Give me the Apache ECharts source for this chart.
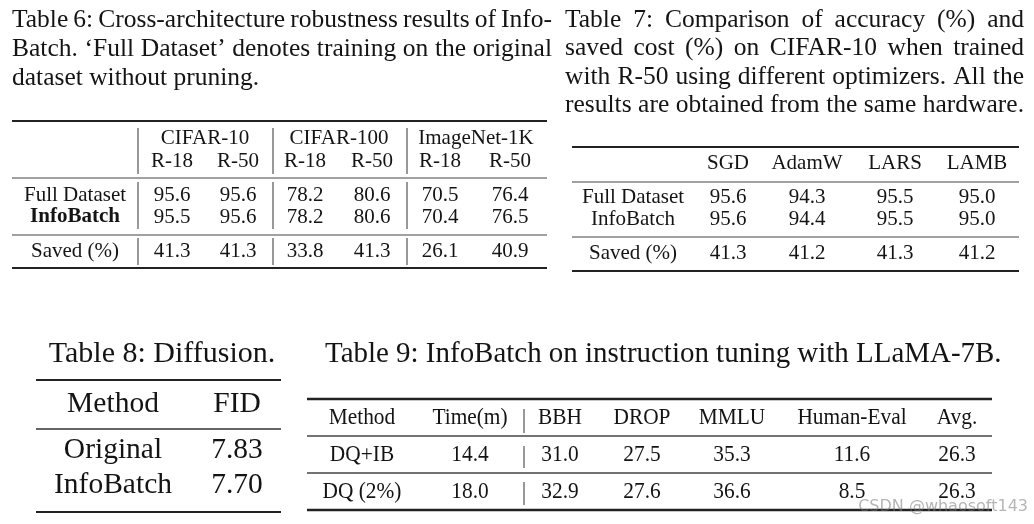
<!DOCTYPE html>
<html><head><meta charset="utf-8">
<script src="https://cdn.jsdelivr.net/npm/echarts@6/dist/echarts.min.js"></script>
<style>html,body{margin:0;padding:0;background:#fff}#c{width:1034px;height:524px}</style>
</head><body><div id="c"></div>
<script>
// ---------- DATA ----------
const t6Caption = ["Table 6: Cross-architecture robustness results of Info-", "Batch. \u2018Full Dataset\u2019 denotes training on the original", "dataset without pruning."];
const t6Groups = ["CIFAR-10", "CIFAR-100", "ImageNet-1K"];
const t6Models = ["R-18", "R-50", "R-18", "R-50", "R-18", "R-50"];
const t6RowLabels = ["Full Dataset", "InfoBatch", "Saved (%)"];
const t6FullDataset = [95.6, 95.6, 78.2, 80.6, 70.5, 76.4];
const t6InfoBatch = [95.5, 95.6, 78.2, 80.6, 70.4, 76.5];
const t6Saved = [41.3, 41.3, 33.8, 41.3, 26.1, 40.9];

const t7Caption = ["Table 7: Comparison of accuracy (%) and", "saved cost (%) on CIFAR-10 when trained", "with R-50 using different optimizers. All the", "results are obtained from the same hardware."];
const t7Optimizers = ["SGD", "AdamW", "LARS", "LAMB"];
const t7RowLabels = ["Full Dataset", "InfoBatch", "Saved (%)"];
const t7FullDataset = [95.6, 94.3, 95.5, 95.0];
const t7InfoBatch = [95.6, 94.4, 95.5, 95.0];
const t7Saved = [41.3, 41.2, 41.3, 41.2];

const t8Caption = "Table 8: Diffusion.";
const t8Header = ["Method", "FID"];
const t8Methods = ["Original", "InfoBatch"];
const t8FID = [7.83, 7.70];

const t9Caption = "Table 9: InfoBatch on instruction tuning with LLaMA-7B.";
const t9Header = ["Method", "Time(m)", "BBH", "DROP", "MMLU", "Human-Eval", "Avg."];
const t9Methods = ["DQ+IB", "DQ (2%)"];
const t9Time = [14.4, 18.0];
const t9BBH = [31.0, 32.9];
const t9DROP = [27.5, 27.6];
const t9MMLU = [35.3, 36.6];
const t9HumanEval = [11.6, 8.5];
const t9Avg = [26.3, 26.3];

const watermark = "CSDN @whaosoft143";

// ---------- LAYOUT ----------
const SERIF = '"Liberation Serif", "Times New Roman", serif';
const INK = '#141414';
const els = [];
const cv = document.createElement('canvas').getContext('2d');
function textW(s, font) { cv.font = font; return cv.measureText(s).width; }
function txt(s, x, y, size, opts) {
  opts = opts || {};
  const font = (opts.bold ? 'bold ' : '') + size + 'px ' + SERIF;
  els.push({
    type: 'text', x: x, y: y, silent: true,
    scaleX: opts.sx || 1, originX: 0, originY: 0,
    style: {
      text: s, font: font, fill: opts.fill || INK,
      align: opts.align || 'center', verticalAlign: 'middle',
      textAlign: opts.align || 'center', textVerticalAlign: 'middle'
    }
  });
}
function justified(s, x0, x1, y, size) {
  const font = size + 'px ' + SERIF;
  const words = s.split(' ');
  const total = words.reduce((a, w) => a + textW(w, font), 0);
  const gap = words.length > 1 ? (x1 - x0 - total) / (words.length - 1) : 0;
  let x = x0;
  words.forEach(w => { txt(w, x, y, size, { align: 'left' }); x += textW(w, font) + gap; });
}
function hline(x0, x1, y, w, c) {
  els.push({ type: 'line', silent: true, shape: { x1: x0, y1: y, x2: x1, y2: y }, style: { stroke: c || '#222', lineWidth: w } });
}
function vline(x, y0, y1) {
  els.push({ type: 'line', silent: true, shape: { x1: x, y1: y0, x2: x, y2: y1 }, style: { stroke: '#333', lineWidth: 1 } });
}
const f1 = v => v.toFixed(1), f2 = v => v.toFixed(2);

// Table 6
(function () {
  const cap = 25.5, fs = 21;
  const capY = [20, 49, 78];
  t6Caption.forEach((l, i) => {
    if (i < t6Caption.length - 1) justified(l, 12, 552, capY[i], cap); else txt(l, 12, capY[i], cap, { align: 'left' });
  });
  const L = 12, R = 547, labX = 75;
  const colX = [172, 238, 305, 372, 440, 510];
  const grpX = [205, 339, 476];
  const bars = [138, 273, 407];
  hline(L, R, 121, 2); hline(L, R, 178, 1.2, '#444'); hline(L, R, 235, 1.2, '#444'); hline(L, R, 268, 2);
  bars.forEach(b => { vline(b, 128, 174); vline(b, 182, 229); vline(b, 238, 265); });
  t6Groups.forEach((g, i) => txt(g, grpX[i], 138, fs));
  t6Models.forEach((m, i) => txt(m, colX[i], 161, fs));
  const rows = [t6FullDataset, t6InfoBatch, t6Saved], rowY = [195, 217, 251];
  t6RowLabels.forEach((l, r) => txt(l, labX, rowY[r], fs, { bold: r === 1 }));
  rows.forEach((vals, r) => vals.forEach((v, i) => txt(f1(v), colX[i], rowY[r], fs)));
})();

// Table 7
(function () {
  const cap = 25.5, fs = 21;
  const capY = [20, 48, 77, 105];
  t7Caption.forEach((l, i) => justified(l, 565, 1024, capY[i], cap));
  const L = 572, R = 1019, labX = 633;
  const colX = [728, 807, 895, 977];
  hline(L, R, 147, 2); hline(L, R, 182, 1.2, '#444'); hline(L, R, 237, 1.2, '#444'); hline(L, R, 271, 2);
  t7Optimizers.forEach((o, i) => txt(o, colX[i], 163, fs));
  const rows = [t7FullDataset, t7InfoBatch, t7Saved], rowY = [197, 219, 253];
  t7RowLabels.forEach((l, r) => txt(l, labX, rowY[r], fs));
  rows.forEach((vals, r) => vals.forEach((v, i) => txt(f1(v), colX[i], rowY[r], fs)));
})();

// Table 8
(function () {
  const fs = 29.5;
  txt(t8Caption, 162, 354, 30);
  const L = 36, R = 281, colX = [113, 237];
  hline(L, R, 380, 2.2); hline(L, R, 429, 1.3, '#333'); hline(L, R, 512, 2.2);
  t8Header.forEach((h, i) => txt(h, colX[i], 404, fs));
  const rowY = [450, 485];
  t8Methods.forEach((m, r) => { txt(m, colX[0], rowY[r], fs); txt(f2(t8FID[r]), colX[1], rowY[r], fs); });
})();

// Table 9
(function () {
  const fs = 22.5, sx = 0.95;
  txt(t9Caption, 325, 354, 30, { align: 'left', sx: 0.965 });
  const L = 307, R = 992;
  const colX = [362, 470, 560, 642, 732, 852, 957];
  hline(L, R, 399, 2.4); hline(L, R, 436, 1.4, '#444'); hline(L, R, 473, 1.4, '#444'); hline(L, R, 510, 2.4);
  vline(524, 409, 433); vline(524, 446, 468); vline(524, 482, 505);
  t9Header.forEach((h, i) => txt(h, colX[i], 418, fs, { sx: sx }));
  const rowY = [455, 492];
  t9Methods.forEach((m, r) => {
    const vals = [t9Time[r], t9BBH[r], t9DROP[r], t9MMLU[r], t9HumanEval[r], t9Avg[r]];
    txt(m, colX[0], rowY[r], fs, { sx: sx });
    vals.forEach((v, i) => txt(f1(v), colX[i + 1], rowY[r], fs, { sx: sx }));
  });
})();

// watermark
els.push({ type: 'text', x: 1028, y: 507, silent: true, style: { text: watermark, font: '16px "DejaVu Sans", sans-serif', fill: 'rgba(120,120,120,0.55)', align: 'right', verticalAlign: 'middle', textAlign: 'right', textVerticalAlign: 'middle' } });

const chart = echarts.init(document.getElementById('c'), null, { renderer: 'canvas' });
chart.setOption({ backgroundColor: '#ffffff', animation: false, graphic: { elements: els } });
</script></body></html>
